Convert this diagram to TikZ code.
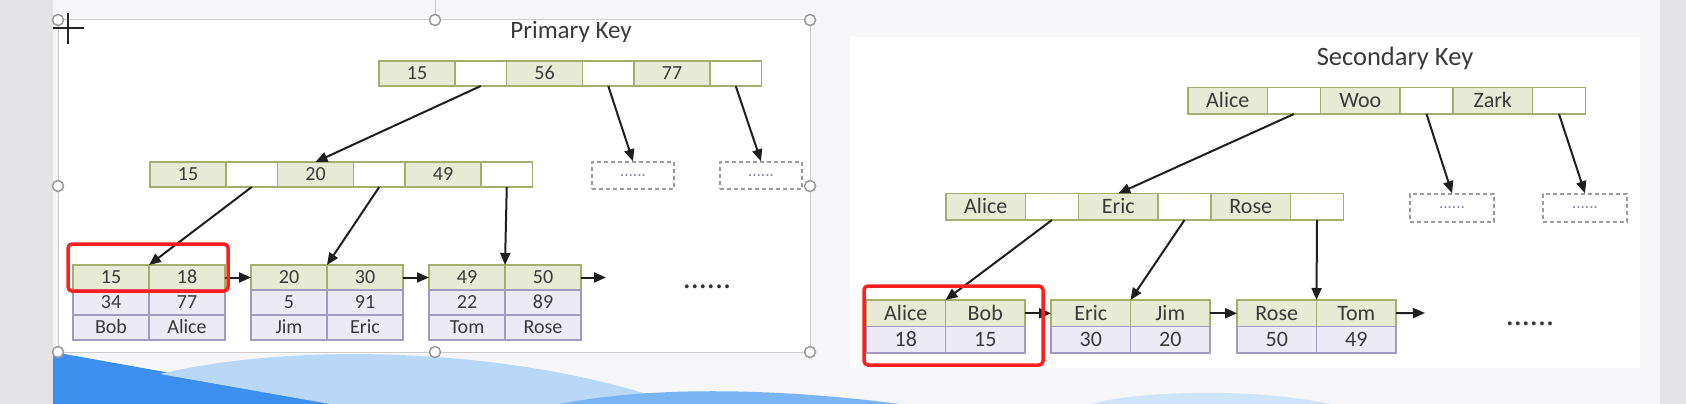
\documentclass[tikz,border=0pt]{standalone}
\usepackage{fontspec}
\setmainfont{Carlito}
\usetikzlibrary{arrows.meta,positioning}

\definecolor{verde}{HTML}{E7EBD5}
\definecolor{oliva}{HTML}{A4AE6E}
\definecolor{lavanda}{HTML}{ECEAF5}
\definecolor{lila}{HTML}{A29BC0}
\definecolor{texto}{HTML}{3A3A3A}
\definecolor{rojo}{HTML}{FF1F1F}
\definecolor{punteado}{HTML}{9C9C9C}
\definecolor{fondo}{HTML}{F6F6F8}
\definecolor{margen}{HTML}{E3E3E5}
\definecolor{azulOsc}{HTML}{3D8FEF}
\definecolor{azulClaro}{HTML}{B9D8F8}
\definecolor{azulMed}{HTML}{7AB4F4}

\begin{document}
\begin{tikzpicture}[
            x=1pt, y=-1pt,
            celda/.style={draw, line width=1.5pt, outer sep=0pt, inner sep=0pt, text=texto},
            clave/.style={celda, draw=oliva, fill=verde},
            puntero/.style={celda, draw=oliva, fill=white},
            valor/.style={celda, draw=lila, fill=lavanda},
            hueco/.style={draw=punteado, dash pattern=on 4pt off 3pt, line width=1.5pt, minimum width=82pt, minimum height=27pt, inner sep=0pt, text=lila!85!black, font=\fontsize{17}{20}\selectfont},
            titulo/.style={text=texto, inner sep=0pt},
            resalte/.style={draw=rojo, line width=3.5pt, rounded corners=4pt, inner sep=0pt},
            flecha/.style={-{Triangle[length=12pt,width=10pt]}, line width=2pt, draw=black!88},
            puntos/.style={text=black!80, font=\fontsize{32}{34}\selectfont, inner sep=0pt},
            asa/.style={draw=black!40, fill=white, line width=1.5pt}
        ]

        % Fondo de la captura (márgenes, diapositiva y olas)
        \useasboundingbox (0,0) rectangle (1686,404);
        \fill[fondo] (0,0) rectangle (1686,404);
        \fill[margen] (0,0) rectangle (53,404);
        \fill[margen] (1660,0) rectangle (1686,404);
        \fill[white] (58,20) rectangle (810,352);
        \fill[white] (850,37) rectangle (1640,368);
        \fill[azulOsc] (53,352) -- (344,404) -- (53,404) -- cycle;
        \fill[azulClaro] (160,374) .. controls (280,345) and (480,345) .. (640,392) .. controls (690,404) .. (730,404) -- (330,404) -- cycle;
        \fill[azulMed] (560,404) .. controls (640,388) and (760,386) .. (900,404) -- cycle;
        \fill[azulClaro!70] (1090,404) .. controls (1150,389) and (1260,389) .. (1330,404) -- cycle;

        % Marco de selección con sus asas
        \draw[black!20, line width=1pt] (58,20) rectangle (810,352);
        \draw[black!20, line width=1pt] (435,0) -- (435,20);
        \foreach \x/\y in {58/20, 435/20, 810/20, 58/186, 810/186, 58/352, 435/352, 810/352}
            \draw[asa] (\x,\y) circle[radius=5.5pt];
        \draw[black!85, line width=2.5pt] (53,28) -- (84,28) (68,13) -- (68,44);

        % ---------- Árbol de clave primaria ----------
        \node[titulo, font=\fontsize{25}{30}\selectfont] (tituloP) at (571,32) {Primary Key};

        \begin{scope}[celda/.append style={minimum width=76pt, minimum height=25pt, text height=12.8pt, text depth=0pt, font=\fontsize{20}{24}\selectfont},
                      puntero/.append style={minimum width=51.5pt}]
        % Nodo raíz
        \node[clave, anchor=north west] (pR1) at (379,61) {15};
        \node[puntero, right=0pt of pR1] (pR2) {};
        \node[clave, right=0pt of pR2] (pR3) {56};
        \node[puntero, right=0pt of pR3] (pR4) {};
        \node[clave, right=0pt of pR4] (pR5) {77};
        \node[puntero, right=0pt of pR5] (pR6) {};
        % Nodo intermedio
        \node[clave, anchor=north west] (pM1) at (150,162) {15};
        \node[puntero, right=0pt of pM1] (pM2) {};
        \node[clave, right=0pt of pM2] (pM3) {20};
        \node[puntero, right=0pt of pM3] (pM4) {};
        \node[clave, right=0pt of pM4] (pM5) {49};
        \node[puntero, right=0pt of pM5] (pM6) {};
        % Hojas (clave, valor, nombre)
        \node[clave, anchor=north west] (pH1a) at (73,265) {15};
        \node[clave, right=0pt of pH1a] (pH1b) {18};
        \node[valor, below=0pt of pH1a] (pV1a) {34};
        \node[valor, below=0pt of pH1b] (pV1b) {77};
        \node[valor, below=0pt of pV1a] (pN1a) {Bob};
        \node[valor, below=0pt of pV1b] (pN1b) {Alice};

        \node[clave, right=26pt of pH1b] (pH2a) {20};
        \node[clave, right=0pt of pH2a] (pH2b) {30};
        \node[valor, below=0pt of pH2a] (pV2a) {5};
        \node[valor, below=0pt of pH2b] (pV2b) {91};
        \node[valor, below=0pt of pV2a] (pN2a) {Jim};
        \node[valor, below=0pt of pV2b] (pN2b) {Eric};

        \node[clave, right=26pt of pH2b] (pH3a) {49};
        \node[clave, right=0pt of pH3a] (pH3b) {50};
        \node[valor, below=0pt of pH3a] (pV3a) {22};
        \node[valor, below=0pt of pH3b] (pV3b) {89};
        \node[valor, below=0pt of pV3a] (pN3a) {Tom};
        \node[valor, below=0pt of pV3b] (pN3b) {Rose};
        \end{scope}

        % Nodos sin desarrollar
        \node[hueco] (pD1) at (633,175.5) {......};
        \node[hueco] (pD2) at (761,175.5) {......};
        \node[puntos] (pMas) at (707,287) {......};
        \coordinate (pFin) at (606,277.5);

        % Flechas del árbol primario
        \draw[flecha] (pR2.south) -- (pM3.north);
        \draw[flecha] (pR4.south) -- (pD1.north);
        \draw[flecha] (pR6.south) -- (pD2.north);
        \draw[flecha] (pM2.south) -- (pH1a.north east);
        \draw[flecha] (pM4.south) -- (pH2a.north east);
        \draw[flecha] (pM6.south) -- (pH3a.north east);
        \draw[flecha] (pH1b.east) -- (pH2a.west);
        \draw[flecha] (pH2b.east) -- (pH3a.west);
        \draw[flecha] (pH3b.east) -- (pFin);

        % Resaltado en rojo de la primera hoja
        \node[resalte, minimum width=160pt, minimum height=47pt] (pMarca) at (148,267.5) {};

        % ---------- Árbol de clave secundaria ----------
        \node[titulo, font=\fontsize{26.5}{31}\selectfont] (tituloS) at (1395,58) {Secondary Key};

        \begin{scope}[celda/.append style={minimum width=79.5pt, minimum height=26.5pt, text height=14.1pt, text depth=0pt, font=\fontsize{22}{26}\selectfont},
                      puntero/.append style={minimum width=53pt}]
        % Nodo raíz
        \node[clave, anchor=north west] (sR1) at (1188,87.5) {Alice};
        \node[puntero, right=0pt of sR1] (sR2) {};
        \node[clave, right=0pt of sR2] (sR3) {Woo};
        \node[puntero, right=0pt of sR3] (sR4) {};
        \node[clave, right=0pt of sR4] (sR5) {Zark};
        \node[puntero, right=0pt of sR5] (sR6) {};
        % Nodo intermedio
        \node[clave, anchor=north west] (sM1) at (946,193.5) {Alice};
        \node[puntero, right=0pt of sM1] (sM2) {};
        \node[clave, right=0pt of sM2] (sM3) {Eric};
        \node[puntero, right=0pt of sM3] (sM4) {};
        \node[clave, right=0pt of sM4] (sM5) {Rose};
        \node[puntero, right=0pt of sM5] (sM6) {};
        % Hojas (nombre, clave primaria)
        \node[clave, anchor=north west] (sH1a) at (866,300) {Alice};
        \node[clave, right=0pt of sH1a] (sH1b) {Bob};
        \node[valor, below=0pt of sH1a] (sV1a) {18};
        \node[valor, below=0pt of sH1b] (sV1b) {15};

        \node[clave, right=26pt of sH1b] (sH2a) {Eric};
        \node[clave, right=0pt of sH2a] (sH2b) {Jim};
        \node[valor, below=0pt of sH2a] (sV2a) {30};
        \node[valor, below=0pt of sH2b] (sV2b) {20};

        \node[clave, right=27pt of sH2b] (sH3a) {Rose};
        \node[clave, right=0pt of sH3a] (sH3b) {Tom};
        \node[valor, below=0pt of sH3a] (sV3a) {50};
        \node[valor, below=0pt of sH3b] (sV3b) {49};
        \end{scope}

        % Nodos sin desarrollar
        \node[hueco, minimum width=84pt, minimum height=28pt] (sD1) at (1452,208) {......};
        \node[hueco, minimum width=84pt, minimum height=28pt] (sD2) at (1585,208) {......};
        \node[puntos] (sMas) at (1530,324) {......};
        \coordinate (sFin) at (1425,313);

        % Flechas del árbol secundario
        \draw[flecha] (sR2.south) -- (sM3.north);
        \draw[flecha] (sR4.south) -- (sD1.north);
        \draw[flecha] (sR6.south) -- (sD2.north);
        \draw[flecha] (sM2.south) -- (sH1a.north east);
        \draw[flecha] (sM4.south) -- (sH2a.north east);
        \draw[flecha] (sM6.south) -- (sH3a.north east);
        \draw[flecha] (sH1b.east) -- (sH2a.west);
        \draw[flecha] (sH2b.east) -- (sH3a.west);
        \draw[flecha] (sH3b.east) -- (sFin);

        % Resaltado en rojo de la primera hoja
        \node[resalte, minimum width=179pt, minimum height=79pt] (sMarca) at (953.5,325.5) {};

    \end{tikzpicture}
\end{document}
